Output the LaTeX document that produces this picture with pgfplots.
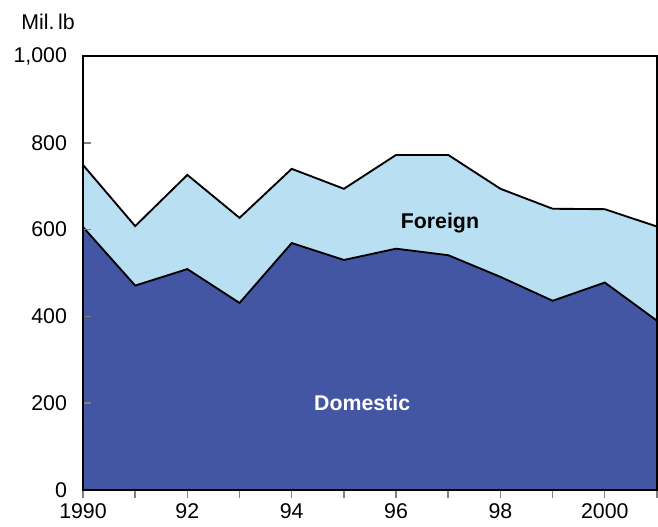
\documentclass[border=0pt]{standalone}
\usepackage{pgfplots}
\pgfplotsset{compat=1.18}
\usepackage{fontspec}
\setmainfont{Liberation Sans}
\definecolor{domblue}{RGB}{67,86,163}
\definecolor{forblue}{RGB}{185,224,242}
\begin{document}
\begin{tikzpicture}[font=\fontsize{16}{19}\selectfont]
\begin{axis}[
    scale only axis,
    width=430.5pt, height=325.5pt,
    xmin=1990, xmax=2001, ymin=0, ymax=1000,
    axis line style={line width=1.9pt},
    xtick={1990,...,2001},
    xticklabels={1990,,92,,94,,96,,98,,2000,},
    ytick={0,200,400,600,800,1000},
    yticklabel style={/pgf/number format/1000 sep={,}},
    /pgf/number format/assume math mode=true,
    tick pos=left,
    xtick align=outside, ytick align=inside,
    major tick length=6pt,
    tick style={gray, line width=1.1pt},
    xticklabel style={yshift=-1pt},
    yticklabel style={xshift=-8.5pt},
    axis on top,
]
% total (domestic + foreign)
\addplot[fill=forblue, draw=black, line width=1.4pt] coordinates {
(1990,749) (1991,608) (1992,726) (1993,627) (1994,740) (1995,694)
(1996,772) (1997,772) (1998,694) (1999,648) (2000,647) (2001,607)
} \closedcycle;
% domestic
\addplot[fill=domblue, draw=black, line width=1.4pt] coordinates {
(1990,606) (1991,471) (1992,509) (1993,431) (1994,569) (1995,530)
(1996,556) (1997,541) (1998,491) (1999,436) (2000,478) (2001,390)
} \closedcycle;
\node[font=\fontsize{16}{19}\selectfont\bfseries] at (axis cs:1996.84,615) {Foreign};
\node[font=\fontsize{16}{19}\selectfont\bfseries, white] at (axis cs:1995.35,200) {Domestic};
\coordinate (sw) at (rel axis cs:0,0);
\coordinate (ne) at (rel axis cs:1,1);
\end{axis}
\node[anchor=base east, inner sep=0pt] at ([xshift=-6pt, yshift=19.5pt]ne -| sw) {Mil.\,lb};
\pgfresetboundingbox
\path ([xshift=-62.25pt, yshift=-27.75pt]sw) rectangle ([xshift=0.75pt, yshift=42pt]ne);
\end{tikzpicture}
\end{document}
